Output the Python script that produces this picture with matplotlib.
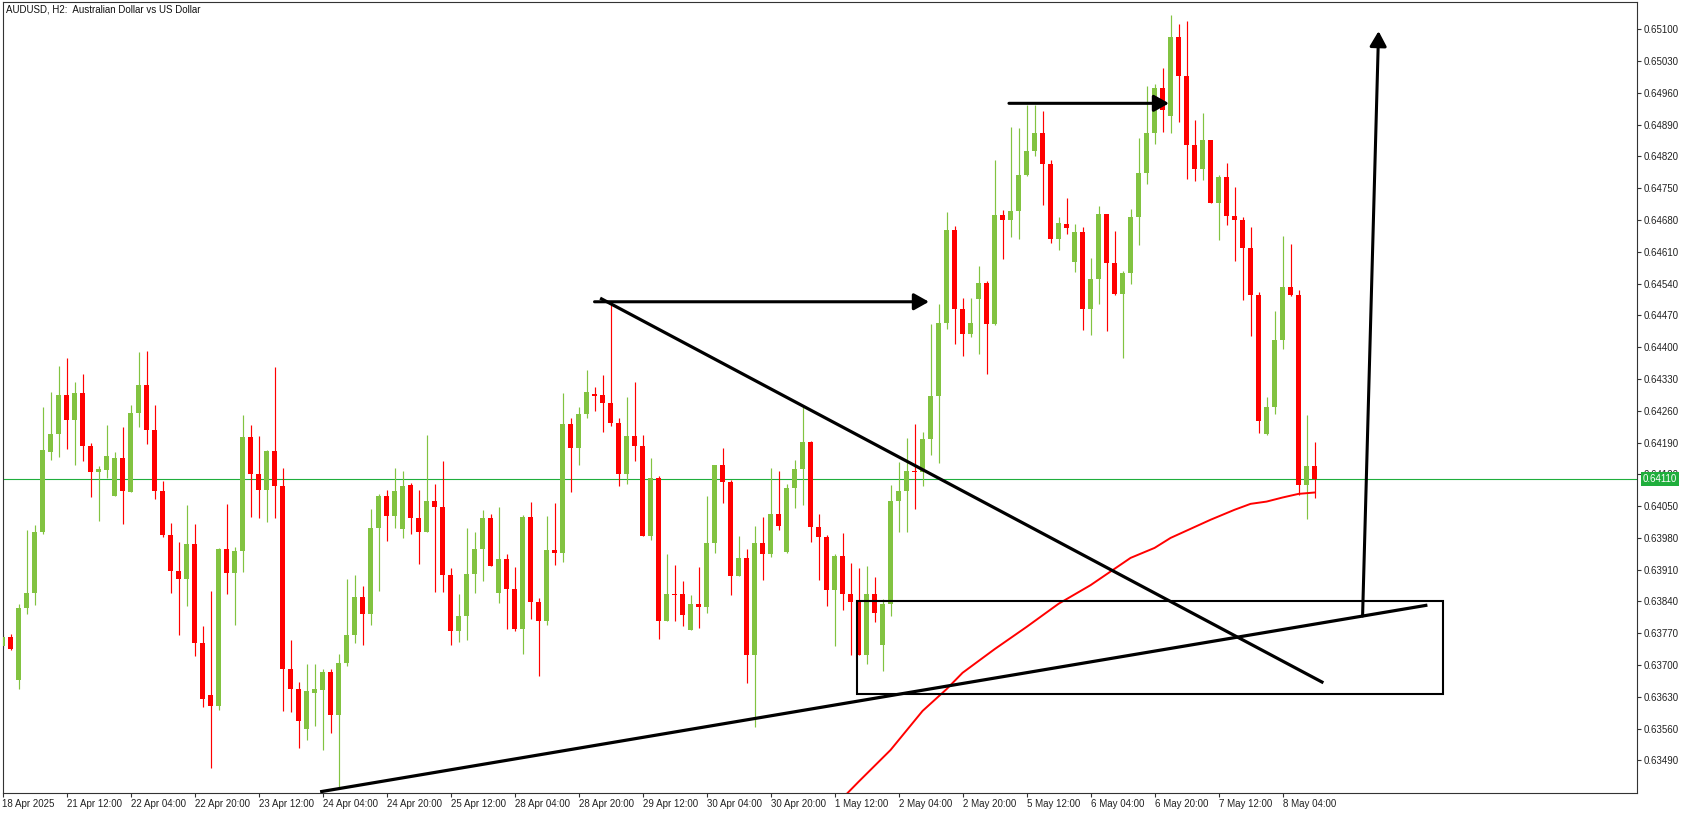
import numpy as np
import matplotlib.pyplot as plt
from matplotlib.transforms import blended_transform_factory
from matplotlib.patches import Rectangle

plt.rcParams['font.family'] = ['Liberation Sans', 'DejaVu Sans']

# AUDUSD H2 bars, prices in points (price * 1e5), bar 0 = first visible bar
opens = [63742, 63762, 63667, 63826, 63859, 63993, 64169, 64209, 64295, 64240,
         64299, 64182, 64125, 64130, 64072, 64156, 64081, 64255, 64317, 64218,
         64083, 63986, 63907, 63890, 63967, 63749, 63634, 63610, 63956, 63903,
         63951, 64202, 64121, 64086, 64171, 64094, 63691, 63647, 63559, 63639,
         63645, 63685, 63590, 63705, 63766, 63850, 63813, 64002, 64072, 64028,
         64000, 64097, 64024, 63993, 64061, 64048, 63898, 63775, 63808, 63901,
         63956, 64024, 63859, 63934, 63868, 63779, 64026, 63839, 63797, 63953,
         63947, 64231, 64178, 64253, 64298, 64295, 64277, 64233, 64121, 64204,
         64182, 63984, 64112, 63797, 63857, 63857, 63777, 63835, 63828, 63969,
         64141, 64103, 63896, 63936, 63722, 63969, 63945, 64033, 63949, 64090,
         64132, 64191, 64004, 63982, 63865, 63940, 63857, 63839, 63722, 63857,
         63744, 63835, 64061, 64083, 64127, 64125, 64198, 64293, 64453, 64658,
         64484, 64429, 64506, 64541, 64451, 64691, 64680, 64700, 64779, 64832,
         64872, 64803, 64638, 64672, 64588, 64654, 64484, 64550, 64693, 64585,
         64517, 64563, 64687, 64784, 64872, 64971, 64909, 65083, 64997, 64845,
         64792, 64856, 64718, 64775, 64689, 64680, 64618, 64515, 64209, 64268,
         64416, 64532, 64515, 64097, 64138]
highs = [63768, 63768, 63835, 63997, 64008, 64268, 64301, 64359, 64376, 64323,
         64341, 64189, 64138, 64229, 64169, 64224, 64273, 64389, 64392, 64273,
         64105, 64013, 63971, 64052, 64011, 63786, 63863, 63958, 64055, 63960,
         64251, 64229, 64204, 64174, 64356, 64134, 63755, 63663, 63702, 63702,
         63691, 63691, 63724, 63890, 63898, 63874, 64044, 64077, 64086, 64134,
         64127, 64101, 64086, 64207, 64099, 64149, 63914, 63857, 64002, 63993,
         64042, 64033, 64048, 63945, 63916, 64031, 64059, 63848, 64028, 64057,
         64299, 64244, 64268, 64350, 64312, 64339, 64499, 64244, 64290, 64323,
         64207, 64156, 64116, 63945, 63920, 63885, 63854, 63916, 64072, 64141,
         64178, 64107, 63984, 63956, 64006, 64026, 64134, 64127, 64099, 64152,
         64270, 64193, 64033, 63986, 63945, 63991, 63925, 63914, 63918, 63894,
         63845, 64097, 64147, 64200, 64231, 64213, 64451, 64495, 64698, 64667,
         64508, 64508, 64579, 64546, 64812, 64702, 64885, 64883, 64933, 64933,
         64920, 64812, 64687, 64729, 64671, 64665, 64596, 64711, 64693, 64656,
         64568, 64704, 64861, 64975, 64980, 65015, 65131, 65112, 65118, 64900,
         64916, 64856, 64779, 64806, 64753, 64687, 64665, 64521, 64290, 64480,
         64645, 64627, 64526, 64251, 64191]
lows = [63738, 63733, 63647, 63813, 63832, 63989, 64152, 64158, 64176, 64141,
        64149, 64070, 64017, 64112, 64072, 64011, 64081, 64224, 64187, 64066,
        63982, 63859, 63766, 63830, 63720, 63608, 63473, 63601, 63857, 63788,
        63905, 64026, 64024, 64015, 64024, 63599, 63597, 63517, 63535, 63566,
        63513, 63550, 63431, 63698, 63749, 63744, 63788, 63863, 63973, 64002,
        63980, 63989, 63923, 63993, 63861, 63861, 63744, 63751, 63755, 63859,
        63885, 63918, 63837, 63779, 63775, 63724, 63802, 63676, 63788, 63920,
        63927, 64081, 64141, 64244, 64260, 64213, 64226, 64094, 64099, 64149,
        63984, 63975, 63757, 63797, 63797, 63786, 63777, 63782, 63815, 63947,
        64057, 63854, 63896, 63660, 63564, 63887, 63938, 63997, 63947, 64046,
        64052, 63971, 63887, 63830, 63742, 63821, 63722, 63722, 63702, 63795,
        63687, 63808, 63993, 63993, 64044, 64094, 64163, 64145, 64440, 64407,
        64381, 64422, 64385, 64341, 64449, 64594, 64643, 64638, 64777, 64821,
        64713, 64629, 64614, 64649, 64566, 64438, 64427, 64495, 64436, 64515,
        64376, 64539, 64625, 64759, 64847, 64874, 64872, 64896, 64770, 64766,
        64768, 64718, 64636, 64669, 64590, 64504, 64425, 64211, 64207, 64253,
        64396, 64513, 64075, 64022, 64068]
closes = [63762, 63735, 63826, 63859, 63993, 64174, 64209, 64295, 64240, 64299,
          64182, 64125, 64132, 64160, 64156, 64083, 64255, 64317, 64218, 64083,
          63986, 63907, 63890, 63967, 63749, 63625, 63610, 63956, 63903, 63951,
          64202, 64121, 64086, 64171, 64094, 63691, 63647, 63577, 63643, 63647,
          63685, 63590, 63705, 63766, 63850, 63813, 64002, 64072, 64028, 64083,
          64094, 64024, 63993, 64061, 64048, 63898, 63775, 63808, 63901, 63956,
          64024, 63918, 63934, 63868, 63779, 64026, 63839, 63797, 63953, 63947,
          64231, 64178, 64253, 64301, 64293, 64277, 64233, 64121, 64204, 64182,
          63984, 64112, 63797, 63857, 63854, 63810, 63835, 63828, 63969, 64141,
          64103, 63896, 63936, 63722, 63969, 63945, 64033, 64006, 64090, 64132,
          64191, 64004, 63982, 63865, 63940, 63857, 63839, 63722, 63857, 63815,
          63835, 64061, 64083, 64127, 64125, 64198, 64293, 64453, 64658, 64484,
          64429, 64453, 64541, 64451, 64691, 64680, 64700, 64779, 64832, 64872,
          64803, 64638, 64674, 64662, 64654, 64484, 64550, 64693, 64585, 64517,
          64563, 64687, 64784, 64872, 64971, 64922, 65083, 64997, 64845, 64792,
          64856, 64718, 64775, 64689, 64680, 64618, 64515, 64238, 64268, 64416,
          64532, 64515, 64097, 64138, 64110]

# moving average (red line), sampled at bar indices
ma_bars = [105, 107, 111, 115, 118, 120, 124, 128, 132, 136, 141, 144, 146,
           149, 151, 154, 156, 158, 160, 162, 164]
ma_vals = [63407, 63443, 63513, 63599, 63647, 63683, 63735, 63784, 63835,
           63876, 63936, 63958, 63980, 64004, 64020, 64042, 64055, 64060,
           64069, 64077, 64080]

bid = 0.64110
time_labels = ['18 Apr 2025', '21 Apr 12:00', '22 Apr 04:00', '22 Apr 20:00',
               '23 Apr 12:00', '24 Apr 04:00', '24 Apr 20:00', '25 Apr 12:00',
               '28 Apr 04:00', '28 Apr 20:00', '29 Apr 12:00', '30 Apr 04:00',
               '30 Apr 20:00', '1 May 12:00', '2 May 04:00', '2 May 20:00',
               '5 May 12:00', '6 May 04:00', '6 May 20:00', '7 May 12:00',
               '8 May 04:00']

# drawn objects (bar index, price)
arrow_low = [(74.0, 0.64500), (115.8, 0.64500)]
arrow_high = [(125.8, 0.64937), (145.8, 0.64937)]
arrow_up = [(170.0, 0.63808), (172.0, 0.65096)]
line_down = [(74.7, 0.64508), (165.1, 0.63661)]
line_up = [(39.7, 0.63421), (178.1, 0.63832)]
zone = [(106.8, 0.63636), (180.0, 0.63841)]

o = np.array(opens) / 1e5
h = np.array(highs) / 1e5
l = np.array(lows) / 1e5
c = np.array(closes) / 1e5
x = np.arange(len(o))

W, H = 1691, 813
fig = plt.figure(figsize=(W / 100, H / 100), dpi=100)
ax = fig.add_axes([2.5 / W, 20.5 / H, 1634.5 / W, 790.5 / H])

up_col = '#82c341'
dn_col = '#ff0000'
cols = np.where(c >= o, up_col, dn_col)

ax.vlines(x, l, h, colors=cols, linewidth=0.85, zorder=2)
body = np.maximum(np.abs(c - o), 0.00003)
ax.bar(x, body, bottom=np.minimum(o, c), width=0.62, color=cols,
       linewidth=0, zorder=3)

ax.plot(ma_bars, np.array(ma_vals) / 1e5, color='red', linewidth=1.4, zorder=4)
ax.axhline(bid, color='#1fae3c', linewidth=0.8, zorder=1)

# trend lines, zone and arrows
for ln in (line_down, line_up):
    ax.plot([ln[0][0], ln[1][0]], [ln[0][1], ln[1][1]], color='black',
            linewidth=2.3, solid_capstyle='butt', zorder=5)
ax.add_patch(Rectangle(zone[0], zone[1][0] - zone[0][0],
                       zone[1][1] - zone[0][1], fill=False,
                       edgecolor='black', linewidth=1.5, zorder=5))
for ar in (arrow_low, arrow_high, arrow_up):
    ax.annotate('', xy=ar[1], xytext=ar[0],
                arrowprops=dict(arrowstyle='-|>,head_length=0.5,head_width=0.28',
                                color='black', lw=2.2, mutation_scale=18,
                                shrinkA=0, shrinkB=0), zorder=6)

ax.set_xlim(0.025, 204.3)
ax.set_ylim(0.634194, 0.651601)

yt = np.arange(0.63490, 0.651001, 0.0007)
ax.yaxis.tick_right()
ax.set_yticks(yt)
ax.set_yticklabels([f'{v:.5f}' for v in yt])
ax.set_xticks(np.arange(0, 8 * len(time_labels), 8))
ax.set_xticklabels(time_labels, ha='left')
ax.tick_params(axis='both', direction='out', length=3, width=0.8,
               color='#333333', labelsize=7, pad=1.5, labelcolor='#222222')
for sp in ax.spines.values():
    sp.set_color('#333333')
    sp.set_linewidth(0.8)

# current price label, drawn over the hidden tick label like the terminal does
tr = blended_transform_factory(ax.transAxes, ax.transData)
ax.text(1.0035, bid, f'{bid:.5f}', transform=tr, ha='left', va='center',
        fontsize=7, color='white', zorder=10, clip_on=False,
        bbox=dict(boxstyle='square,pad=0.18', facecolor='#1fae3c',
                  edgecolor='none'))

fig.text(6 / W, 1 - 9 / H, 'AUDUSD, H2:  Australian Dollar vs US Dollar',
         fontsize=7, va='center', ha='left', color='#111111')

fig.savefig('out.png', dpi=100)
